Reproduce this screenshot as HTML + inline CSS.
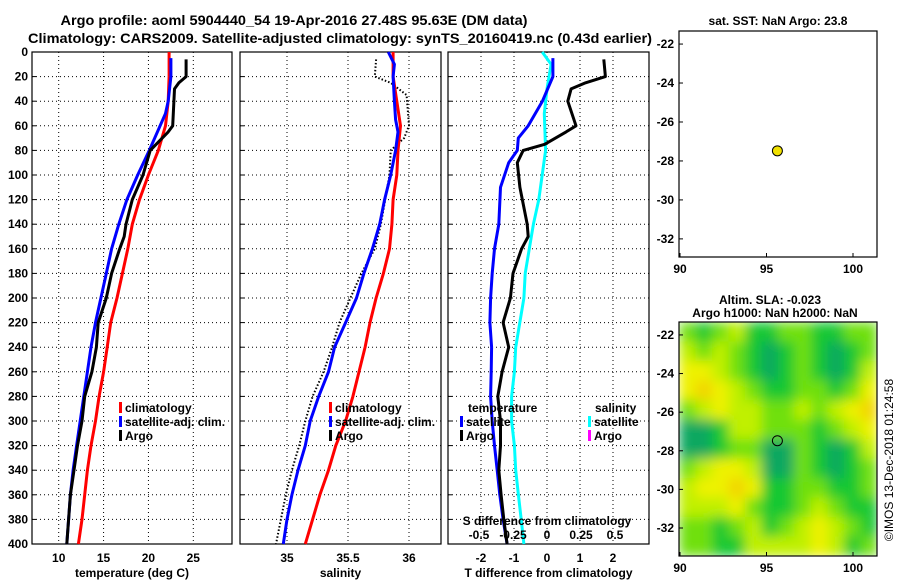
<!DOCTYPE html>
<html><head><meta charset="utf-8"><style>
html,body{margin:0;padding:0;background:#fff;}
svg{display:block;font-family:"Liberation Sans",Arial,sans-serif;font-weight:bold;}
</style></head><body>
<svg id="chart" width="900" height="580" viewBox="0 0 900 580" xmlns="http://www.w3.org/2000/svg">
<defs>
<filter id="blur" filterUnits="userSpaceOnUse" x="679" y="322" width="198" height="234">
<feGaussianBlur stdDeviation="6" edgeMode="duplicate"/>
</filter>
<clipPath id="mapclip"><rect x="679" y="322" width="198" height="234"/></clipPath>
</defs>
<text x="294" y="25" font-size="14" text-anchor="middle" textLength="467" lengthAdjust="spacingAndGlyphs">Argo profile: aoml 5904440_54 19-Apr-2016 27.48S 95.63E (DM data)</text>
<text x="340" y="43" font-size="14" text-anchor="middle" textLength="624" lengthAdjust="spacingAndGlyphs">Climatology: CARS2009. Satellite-adjusted climatology: synTS_20160419.nc (0.43d earlier)</text>
<text x="778" y="25" font-size="12" text-anchor="middle">sat. SST: NaN Argo: 23.8</text>
<text x="770" y="304" font-size="12" text-anchor="middle">Altim. SLA: -0.023</text>
<text x="775" y="317" font-size="12" text-anchor="middle">Argo h1000: NaN h2000: NaN</text>
<text transform="translate(893,460) rotate(-90)" font-size="12" font-weight="normal" text-anchor="middle">©IMOS 13-Dec-2018 01:24:58</text>
<g id="heat" clip-path="url(#mapclip)"><g id="heatinner" filter="url(#blur)"></g></g>
<g id="g"></g>
</svg>
<script>
// depth axis
const depthTicks = [0,20,40,60,80,100,120,140,160,180,200,220,240,260,280,300,320,340,360,380,400];
// temperature panel
const tempTicks = [10,15,20,25];
const climDepth = [0,20,40,60,80,100,120,140,160,180,200,220,240,260,280,300,320,340,360,380,400];
const climTemp = [22.3,22.3,22.2,21.9,21.1,20.0,19.0,18.2,17.7,17.1,16.5,15.8,15.4,15.0,14.5,14.1,13.6,13.2,12.9,12.6,12.2];
const satDepth = [5,20,40,50,60,80,100,120,140,160,180,200,220,240,260,280,300,320,340,360,380,400];
const satTemp = [22.5,22.5,22.2,21.9,21.3,20.1,18.8,17.6,16.7,15.9,15.3,14.7,14.1,13.6,13.2,12.8,12.4,12.0,11.6,11.3,11.1,10.9];
const argoDepth = [6,20,25,30,60,65,80,100,120,140,150,160,180,200,220,240,260,280,300,320,340,360,380,400];
const argoTemp = [24.2,24.2,23.4,22.9,22.7,22.2,20.2,19.4,18.2,17.5,17.3,16.8,15.9,15.3,14.4,14.2,13.7,12.9,12.6,12.1,11.7,11.3,11.1,10.9];
// salinity panel
const salTicks = [35,35.5,36];
const climSal = [35.87,35.87,35.90,35.93,35.91,35.90,35.87,35.86,35.84,35.79,35.73,35.68,35.64,35.59,35.54,35.48,35.40,35.34,35.27,35.21,35.15];
const satSalDepth = [0,10,20,40,55,65,80,100,120,140,160,180,200,220,240,260,280,300,320,340,360,380,400];
const satSal = [35.83,35.88,35.87,35.88,35.89,35.91,35.89,35.85,35.80,35.76,35.70,35.63,35.57,35.48,35.39,35.34,35.26,35.19,35.15,35.09,35.04,35.00,34.97];
const argoSalDepth = [6,20,25,35,60,70,80,100,140,160,180,200,220,240,260,280,300,320,340,360,380,400];
const argoSal = [35.73,35.72,35.85,35.98,36.0,35.96,35.85,35.84,35.77,35.72,35.61,35.52,35.43,35.37,35.30,35.21,35.15,35.10,35.04,34.99,34.95,34.91];
// difference panel
const diffTicks = [-2,-1,0,1,2];
const sdiffTicks = [-0.5,-0.25,0,0.25,0.5];
const sdiffTickLabels = ['-0.5','-0.25','0','0.25','0.5'];
const satTdiffDepth = [5,20,40,60,70,80,90,110,140,160,180,200,220,240,260,280,300,320,340,360,380,400];
const satTdiff = [0.18,0.18,-0.14,-0.57,-0.87,-0.9,-1.16,-1.41,-1.46,-1.59,-1.66,-1.71,-1.73,-1.68,-1.69,-1.71,-1.66,-1.59,-1.51,-1.43,-1.33,-1.21];
const argoTdiffDepth = [6,20,25,30,40,60,65,75,80,90,110,140,150,160,180,200,220,240,260,280,300,320,340,360,380,400];
const argoTdiff = [1.72,1.77,1.17,0.73,0.63,0.88,0.58,-0.07,-0.72,-0.9,-0.82,-0.6,-0.57,-0.77,-1.03,-1.11,-1.33,-1.16,-1.36,-1.49,-1.41,-1.41,-1.46,-1.39,-1.31,-1.21];
const satSdiffDepth = [0,10,30,50,80,100,120,140,160,180,200,220,240,260,280,300,320,340,360,380,400];
const satSdiff = [-0.035,0.03,0,-0.02,-0.01,-0.035,-0.06,-0.10,-0.13,-0.16,-0.17,-0.20,-0.23,-0.24,-0.26,-0.26,-0.24,-0.23,-0.21,-0.19,-0.17];
// maps
const lonTicks = [90,95,100];
const latTicks = [-22,-24,-26,-28,-30,-32];
const argoLon = 95.63, argoLat = -27.48;
const slaGrid = [
[2,1,2,3,1,1,2,2,1,1,2,2],
[3,2,3,2,1,0,1,2,1,0,1,2],
[4,4,3,2,1,0,1,2,1,0,1,3],
[4,5,4,3,2,1,1,2,2,1,2,4],
[2,3,4,3,3,2,2,3,2,3,4,5],
[0,0,1,3,3,2,2,2,1,2,3,4],
[0,0,1,2,2,0,0,2,1,0,1,3],
[2,3,4,4,3,0,0,2,1,0,1,2],
[3,4,4,5,4,1,1,2,2,1,1,2],
[3,3,3,4,2,1,1,2,3,2,1,1],
[2,2,1,2,3,1,2,3,4,3,2,1],
[2,2,1,1,3,3,3,3,4,3,1,2]];
const slaColors = ['#10a860','#18c830','#70e010','#c0f000','#eef200','#f2d400'];

const NS='http://www.w3.org/2000/svg';
const G=document.getElementById('g');
const H=document.getElementById('heatinner');
function el(tag,a,parent){const e=document.createElementNS(NS,tag);for(const k in a)e.setAttribute(k,a[k]);(parent||G).appendChild(e);return e;}
const Y0=52,Y1=544;
function yD(d){return Y0+d*(Y1-Y0)/400;}
function lin(d0,d1,r0,r1){return v=>r0+(v-d0)*(r1-r0)/(d1-d0);}
const P=[
 {x0:32,x1:232,sx:lin(10,25,58.7,193.3),ticks:tempTicks,label:'temperature (deg C)',name:'temperature'},
 {x0:240,x1:441,sx:lin(35,36,287,409),ticks:salTicks,label:'salinity',name:'salinity'},
 {x0:448,x1:649,sx:lin(0,2,547,613),ticks:diffTicks,label:'T difference from climatology',name:'difference'}];
const sS=lin(0,0.5,547,615);
P.forEach((p,i)=>{
  let e;
  depthTicks.forEach(d=>{
    e=el('line',{x1:p.x0,x2:p.x1,y1:yD(d),y2:yD(d),stroke:'#000','stroke-width':1,'stroke-dasharray':'1,3'});
    
    
    e=el('line',{x1:p.x0,x2:p.x0+4,y1:yD(d),y2:yD(d),stroke:'#000'});
    
    
    if(i===0){
      e=el('text',{x:28,y:yD(d)+4,'font-size':12,'text-anchor':'end'});
      e.textContent=d;
      
      
    }
  });
  p.ticks.forEach((t,j)=>{
    const x=p.sx(t);
    e=el('line',{x1:x,x2:x,y1:Y0,y2:Y1,stroke:'#000','stroke-dasharray':'1,3'});
    
    
    e=el('text',{x:x,y:562,'font-size':12,'text-anchor':'middle'});
    e.textContent=t;
    
    
  });
  e=el('rect',{x:p.x0,y:Y0,width:p.x1-p.x0,height:Y1-Y0,fill:'none',stroke:'#000','stroke-width':1.2});
  
  
  e=el('text',{x:(p.x0+p.x1)/2,y:577,'font-size':12,'text-anchor':'middle'});
  e.textContent=p.label;
  
  
});
function line(xs,ds,sx,col,name,dash){
  const pts=xs.map((v,k)=>sx(v).toFixed(1)+','+yD(ds[k]).toFixed(1)).join(' ');
  const e=el('polyline',{points:pts,fill:'none',stroke:col,'stroke-width':dash?2:3,'stroke-linejoin':'round'});
  if(dash)e.setAttribute('stroke-dasharray','1.5,2');
  
  
}
line(climTemp,climDepth,P[0].sx,'#f00','climatology-temp-line');
line(satTemp,satDepth,P[0].sx,'#00f','satellite-temp-line');
line(argoTemp,argoDepth,P[0].sx,'#000','argo-temp-line');
line(argoSal,argoSalDepth,P[1].sx,'#000','argo-salinity-line',true);
line(climSal,climDepth,P[1].sx,'#f00','climatology-salinity-line');
line(satSal,satSalDepth,P[1].sx,'#00f','satellite-salinity-line');
line(satSdiff,satSdiffDepth,sS,'#0ff','satellite-sdiff-line');
line(satTdiff,satTdiffDepth,P[2].sx,'#00f','satellite-tdiff-line');
line(argoTdiff,argoTdiffDepth,P[2].sx,'#000','argo-tdiff-line');
let e;
sdiffTicks.forEach((t,j)=>{
  e=el('text',{x:sS(t),y:539,'font-size':12,'text-anchor':'middle'});
  e.textContent=sdiffTickLabels[j];
  
  
});
e=el('text',{x:547,y:525,'font-size':12,'text-anchor':'middle'});
e.textContent='S difference from climatology';


function leg(x,y,col,txt,name){
  let r=el('rect',{x:x,y:y-10,width:3,height:11,fill:col});
  
  
  let t=el('text',{x:x+6,y:y,'font-size':12});
  t.textContent=txt;
  
  
}
leg(119,412,'#f00','climatology','legend-entry-climatology');
leg(119,426,'#00f','satellite-adj. clim.','legend-entry-satellite-adj');
leg(119,440,'#000','Argo','legend-entry-argo');
leg(329,412,'#f00','climatology','legend-entry-sal-climatology');
leg(329,426,'#00f','satellite-adj. clim.','legend-entry-sal-satellite-adj');
leg(329,440,'#000','Argo','legend-entry-sal-argo');
e=el('text',{x:468,y:412,'font-size':12});
e.textContent='temperature';


leg(460,426,'#00f','satellite','legend-entry-t-satellite');
leg(460,440,'#000','Argo','legend-entry-t-argo');
e=el('text',{x:595,y:412,'font-size':12});
e.textContent='salinity';


leg(588,426,'#0ff','satellite','legend-entry-s-satellite');
leg(588,440,'#f0f','Argo','legend-entry-s-argo');
const maps=[
 {x0:679,x1:877,y0:31,y1:257,lat0:-21.33,lat1:-32.93,name:'sst-map'},
 {x0:679,x1:877,y0:322,y1:556,lat0:-21.33,lat1:-33.45,name:'sla-map'}];
maps.forEach((m,i)=>{
  const sx=lin(90,100,680,853), sy=lin(m.lat0,m.lat1,m.y0,m.y1);
  if(i===1){
    const rows=slaGrid.length, cols=slaGrid[0].length;
    const cw=(m.x1-m.x0)/cols, ch=(m.y1-m.y0)/rows;
    slaGrid.forEach((row,r)=>row.forEach((v,c)=>{
      const rc=el('rect',{x:m.x0+c*cw,y:m.y0+r*ch,width:cw+0.5,height:ch+0.5,fill:slaColors[v]},H);
      
      
    }));
  }
  let f=el('rect',{x:m.x0,y:m.y0,width:m.x1-m.x0,height:m.y1-m.y0,fill:'none',stroke:'#000','stroke-width':1.2});
  
  
  latTicks.forEach(t=>{
    let tk=el('line',{x1:m.x0,x2:m.x0+4,y1:sy(t),y2:sy(t),stroke:'#000'});
    
    
    let tl=el('text',{x:m.x0-5,y:sy(t)+4,'font-size':12,'text-anchor':'end'});
    tl.textContent=t;
    
    
  });
  lonTicks.forEach(t=>{
    let tk=el('line',{x1:sx(t),x2:sx(t),y1:m.y1,y2:m.y1-4,stroke:'#000'});
    
    
    let tl=el('text',{x:sx(t),y:m.y1+16,'font-size':12,'text-anchor':'middle'});
    tl.textContent=t;
    
    
  });
  let c=el('circle',{cx:sx(argoLon),cy:sy(argoLat),r:5,fill:i===0?'#f0e000':'none',stroke:'#000','stroke-width':1});
  
  
});
</script>
</body></html>
